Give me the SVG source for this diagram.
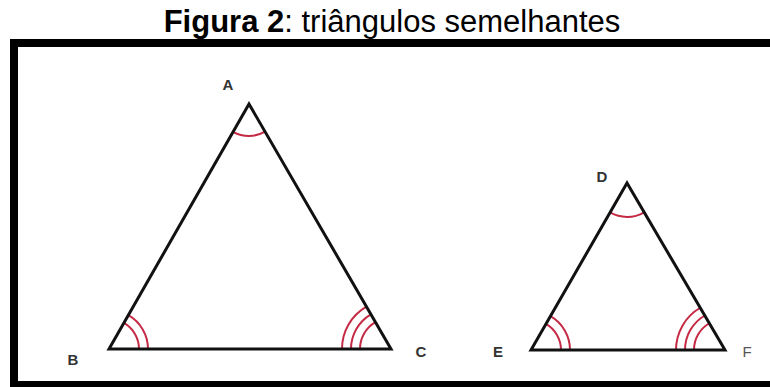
<svg xmlns="http://www.w3.org/2000/svg" width="770" height="387" viewBox="0 0 770 387">
<style>
.frame{fill:none;stroke:#000;stroke-width:8}
.tri{fill:none;stroke:#111;stroke-width:3;stroke-linejoin:miter}
.arc{fill:none;stroke:#c52a45;stroke-width:2}
.lbl{font-family:"Liberation Sans",Arial,sans-serif;font-size:15px;font-weight:bold;fill:#333;text-anchor:middle}
.title{font-family:"Liberation Sans",Arial,sans-serif;font-size:31px;fill:#000;text-anchor:middle}
</style>
<rect width="770" height="387" fill="#fff"/>
<text class="title" x="392" y="32"><tspan font-weight="bold">Figura 2</tspan>: triângulos semelhantes</text>
<rect class="frame" x="14" y="43" width="760" height="342"/>
<g id="triangle-ABC">
  <g class="arcs">
    <path class="arc" d="M233.1,131.8 A32,32 0 0 0 265,131.7"/>
    <path class="arc" d="M139,349 A30,30 0 0 0 123.9,322.95"/>
    <path class="arc" d="M148,349 A39,39 0 0 0 128.35,315.14"/>
    <path class="arc" d="M360,349 A31,31 0 0 1 375.46,322.18"/>
    <path class="arc" d="M351,349 A40,40 0 0 1 370.94,314.4"/>
    <path class="arc" d="M342,349 A49,49 0 0 1 366.43,306.61"/>
  </g>
  <polygon class="tri" points="249,104 109,349 391,349"/>
  <text class="lbl" x="228" y="90">A</text>
  <text class="lbl" x="73" y="365">B</text>
  <text class="lbl" x="421" y="357">C</text>
</g>
<g id="triangle-DEF">
  <g class="arcs">
    <path class="arc" d="M610.05,212.48 A34,34 0 0 0 644.21,212.33"/>
    <path class="arc" d="M561,350 A30,30 0 0 0 545.95,323.99"/>
    <path class="arc" d="M570,350 A39,39 0 0 0 550.44,316.19"/>
    <path class="arc" d="M694,350 A31,31 0 0 1 709.31,323.26"/>
    <path class="arc" d="M685,350 A40,40 0 0 1 704.76,315.5"/>
    <path class="arc" d="M676,350 A49,49 0 0 1 700.2,307.74"/>
  </g>
  <polygon class="tri" points="627,183 531,350 725,350"/>
  <text class="lbl" x="602" y="182">D</text>
  <text class="lbl" x="498" y="357">E</text>
  <text class="lbl" x="747" y="357" style="font-weight:normal;fill:#555">F</text>
</g>
</svg>
